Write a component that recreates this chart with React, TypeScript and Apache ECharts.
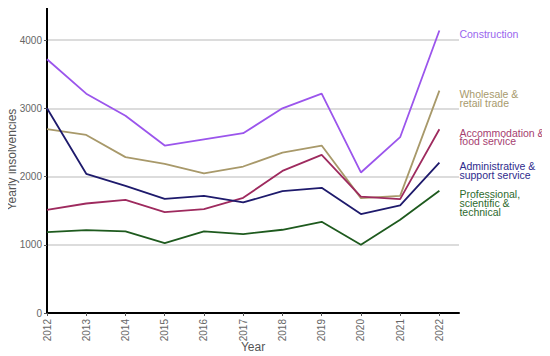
import React, { useEffect, useRef } from "react";
import * as echarts from "echarts";

const years = [2012, 2013, 2014, 2015, 2016, 2017, 2018, 2019, 2020, 2021, 2022];
const construction = [3720, 3215, 2890, 2455, 2545, 2635, 3000, 3215, 2060, 2577, 4140];
const wholesale = [2695, 2610, 2285, 2186, 2045, 2147, 2352, 2454, 1684, 1717, 3259];
const accommodation = [1512, 1605, 1659, 1479, 1523, 1688, 2083, 2318, 1707, 1669, 2694];
const administrative = [3000, 2040, 1864, 1674, 1717, 1620, 1786, 1835, 1450, 1576, 2205];
const professional = [1186, 1215, 1195, 1025, 1195, 1157, 1220, 1337, 1000, 1366, 1791];

const seriesNames = [
  "Construction",
  "Wholesale &\nretail trade",
  "Accommodation &\nfood service",
  "Administrative &\nsupport service",
  "Professional,\nscientific &\ntechnical",
];
const seriesValues = [construction, wholesale, accommodation, administrative, professional];
const lineColors = ["#9b55ec", "#a8996a", "#9e2a5e", "#1e1a6c", "#1e5a1e"];
const labelColors = ["#9966ee", "#a89a6c", "#a6406f", "#2e2b8c", "#2d6a2d"];

export default function App() {
  const ref = useRef<HTMLDivElement>(null);
  useEffect(() => {
    if (!ref.current) return;
    const chart = echarts.init(ref.current, null, { renderer: "svg" });
    const font = "'Liberation Sans', Arial, sans-serif";
    chart.setOption({
      animation: false,
      textStyle: { fontFamily: font },
      grid: { left: 47, right: 91, top: 6, bottom: 43, containLabel: false, outerBoundsMode: "none" },
      xAxis: {
        type: "value",
        min: 2012,
        max: 2022.5,
        interval: 1,
        name: "Year",
        nameLocation: "middle",
        nameGap: 28,
        nameMoveOverlap: false,
        nameTextStyle: { color: "#555", fontSize: 12, fontFamily: font },
        axisLine: { show: true, onZero: false, lineStyle: { color: "#000", width: 2 } },
        axisTick: { show: true, length: 3, lineStyle: { color: "#555" } },
        axisLabel: {
          rotate: 90,
          color: "#666",
          fontSize: 10,
          margin: 6,
          showMaxLabel: false,
          formatter: (v: number) => (Number.isInteger(v) ? String(v) : ""),
        },
        splitLine: { show: false },
      },
      yAxis: {
        type: "value",
        min: 0,
        max: 4500,
        interval: 1000,
        name: "Yearly insolvencies",
        nameLocation: "middle",
        nameGap: 29,
        nameMoveOverlap: false,
        nameTextStyle: { color: "#555", fontSize: 12, fontFamily: font },
        axisLine: { show: true, lineStyle: { color: "#000", width: 2 } },
        axisTick: { show: true, length: 3, lineStyle: { color: "#555" } },
        axisLabel: {
          color: "#666",
          fontSize: 10,
          margin: 5,
          showMaxLabel: false,
          formatter: (v: number) => (v % 1000 === 0 ? String(v) : ""),
        },
        splitLine: {
          show: true,
          showMaxLine: false,
          lineStyle: { color: "#d0d0d0", width: 1.5 },
        },
      },
      series: seriesNames.map((name, i) => ({
        name,
        type: "line",
        symbol: "none",
        data: years.map((y, j) => [y, seriesValues[i][j]]),
        lineStyle: { color: lineColors[i], width: 1.8 },
        itemStyle: { color: lineColors[i] },
        endLabel: {
          show: true,
          formatter: name,
          color: labelColors[i],
          fontSize: 10.5,
          lineHeight: 8.8,
          fontFamily: font,
          distance: 20,
          align: "left",
          verticalAlign: "top",
          overflow: "none",
          offset: [0, -1],
        },
      })),
    });
    return () => chart.dispose();
  }, []);
  return <div ref={ref} style={{ width: 550, height: 356, marginLeft: -8, marginTop: -8 }} />;
}
